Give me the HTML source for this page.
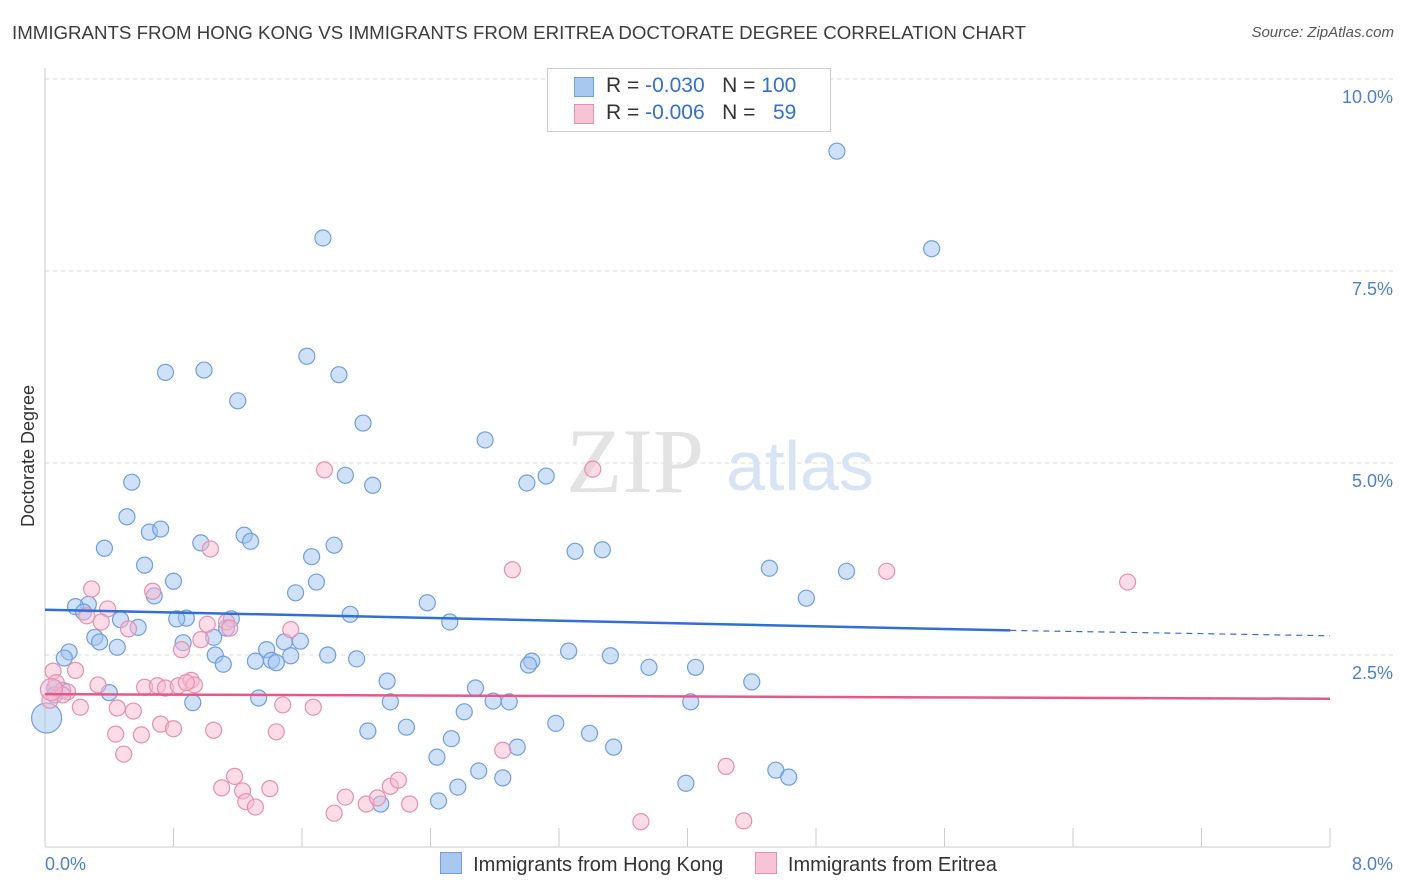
<!DOCTYPE html>
<html><head><meta charset="utf-8"><style>
body{margin:0;background:#fff;font-family:"Liberation Sans",sans-serif;}
#wrap{position:relative;width:1406px;height:892px;overflow:hidden}
.t{position:absolute;white-space:nowrap}
</style></head><body>
<div id="wrap">
<div class="t" style="left:12px;top:22px;font-size:18.7px;color:#3c3c3c">IMMIGRANTS FROM HONG KONG VS IMMIGRANTS FROM ERITREA DOCTORATE DEGREE CORRELATION CHART</div>
<div class="t" style="right:12px;top:24px;font-size:15px;color:#555;font-style:italic">Source: ZipAtlas.com</div>
<svg id="svg" width="1406" height="892" style="position:absolute;left:0;top:0"></svg>
</div>
<script>
const blueX=[4.93,5.52,1.73,1.63,1.83,0.75,0.99,1.20,1.98,2.74,3.12,3.00,1.87,2.04,0.54,0.51,0.65,0.72,1.24,1.28,0.97,0.37,1.80,1.66,3.30,3.47,4.51,4.99,0.62,0.80,1.69,0.68,1.56,4.74,0.27,0.19,0.24,2.38,1.90,0.88,0.82,1.16,0.47,0.58,2.52,1.13,0.31,0.34,0.45,0.86,1.05,1.49,1.59,0.15,0.12,1.38,1.31,1.41,1.44,1.53,1.76,1.94,3.26,3.52,1.06,1.11,3.76,4.05,3.03,3.01,2.13,4.40,2.68,0.06,0.11,0.06,0.40,0.92,1.33,2.15,2.79,2.89,4.02,2.61,3.18,2.25,2.01,3.39,2.53,3.54,2.94,2.44,2.70,2.85,4.55,4.63,3.99,2.57,2.45,2.09,0.01];
const blueY=[9.06,7.79,7.93,6.39,6.15,6.18,6.21,5.81,5.52,5.30,4.83,4.74,4.84,4.71,4.75,4.30,4.10,4.14,4.06,3.98,3.96,3.89,3.93,3.78,3.85,3.87,3.63,3.59,3.67,3.46,3.45,3.27,3.31,3.24,3.16,3.13,3.06,3.18,3.03,2.98,2.97,2.97,2.96,2.86,2.93,2.85,2.73,2.67,2.60,2.66,2.73,2.67,2.68,2.54,2.46,2.57,2.42,2.43,2.40,2.49,2.50,2.45,2.55,2.49,2.50,2.38,2.34,2.34,2.42,2.37,2.16,2.15,2.07,2.07,2.04,1.98,2.01,1.88,1.94,1.89,1.90,1.89,1.89,1.76,1.61,1.56,1.51,1.48,1.41,1.30,1.30,1.17,0.99,0.90,1.00,0.91,0.83,0.78,0.60,0.56,1.68];
const pinkX=[1.74,3.41,2.91,5.24,6.74,1.03,0.29,0.67,0.39,0.26,0.35,0.52,1.13,1.15,1.01,1.53,0.85,0.97,0.05,0.19,0.07,0.33,0.62,0.70,0.75,0.83,0.91,0.93,0.88,0.14,0.11,0.03,0.22,0.45,0.55,1.48,1.67,0.72,0.80,1.05,1.44,0.44,0.60,2.85,4.24,0.49,1.18,1.10,1.23,1.25,1.31,1.40,1.80,1.87,2.00,2.07,2.15,2.20,2.27,3.71,4.35,0.04];
const pinkY=[4.91,4.92,3.61,3.59,3.45,3.88,3.36,3.33,3.10,3.01,2.93,2.84,2.93,2.85,2.90,2.83,2.57,2.70,2.29,2.30,2.14,2.11,2.08,2.10,2.07,2.10,2.17,2.11,2.14,2.02,1.98,1.91,1.82,1.81,1.77,1.85,1.82,1.60,1.54,1.52,1.50,1.47,1.46,1.26,1.05,1.21,0.92,0.77,0.73,0.59,0.52,0.76,0.44,0.65,0.56,0.64,0.79,0.87,0.56,0.33,0.34,2.05];
const blueTrend=[3.09,2.82,2.75];
const pinkTrend=[1.99,1.93];
const yTicks=[2.5,5.0,7.5,10.0];
const xTicks=[0,0.8,1.6,2.4,3.2,4.0,4.8,5.6,6.4,7.2,8.0];

const X0=45,X1=1330,Y0=847,Y1=79;
const sx=v=>X0+(v/8)*(X1-X0);
const sy=v=>Y0-(v/10)*(Y0-Y1);
const svg=document.getElementById('svg');
const NS='http://www.w3.org/2000/svg';
function mk(tag,attrs){const e=document.createElementNS(NS,tag);for(const k in attrs)e.setAttribute(k,attrs[k]);svg.appendChild(e);return e;}

yTicks.forEach(v=>{
  const g=mk('line',{x1:X0,x2:1395,y1:sy(v),y2:sy(v),stroke:'#dcdcdc','stroke-dasharray':'4,4'});
  
  
  const t=mk('text',{x:1393,y:sy(v)+24,'text-anchor':'end','font-size':18,fill:'#4a7fd4','font-family':'Liberation Sans'});
  t.textContent=v.toFixed(1)+'%';
  
  
});
const topGrid=mk('line',{x1:X0,x2:1395,y1:Y1,y2:Y1,stroke:'#dcdcdc','stroke-dasharray':'4,4'});


const ax=mk('line',{x1:X0,x2:X0,y1:68,y2:Y0,stroke:'#ccc'});


const bx=mk('line',{x1:X0,x2:X1,y1:Y0,y2:Y0,stroke:'#ccc'});


xTicks.forEach(v=>{
  const l=mk('line',{x1:sx(v),x2:sx(v),y1:828,y2:Y0,stroke:'#ccc'});
  
  
});
[[0,'start'],[8,'end']].forEach(([v,a])=>{
  const t=mk('text',{x:v===0?45:1393,y:870,'text-anchor':a,'font-size':18,fill:'#4a7fd4','font-family':'Liberation Sans'});
  t.textContent=v.toFixed(1)+'%';
  
  
});
const yt=mk('text',{x:34,y:456,'text-anchor':'middle','font-size':18,fill:'#333',transform:'rotate(-90 34 456)','font-family':'Liberation Sans'});
yt.textContent='Doctorate Degree';


const w1=mk('text',{x:635,y:492,'text-anchor':'middle','font-size':92,fill:'#e3e3e3','font-family':'Liberation Serif'});
w1.textContent='ZIP';


const w2=mk('text',{x:800,y:490,'text-anchor':'middle','font-size':70,fill:'#d6e4f5','font-family':'Liberation Sans'});
w2.textContent='atlas';



blueX.forEach((v,i)=>{
  const big=i===blueX.length-1;
  const c=mk('circle',{cx:sx(v),cy:sy(blueY[i]),r:big?15:8,fill:'rgba(160,196,240,0.5)',stroke:'#6f9fe0','stroke-width':1.2});
  
  
});
pinkX.forEach((v,i)=>{
  const big=i===pinkX.length-1;
  const c=mk('circle',{cx:sx(v),cy:sy(pinkY[i]),r:big?11:8,fill:'rgba(247,185,207,0.5)',stroke:'#e88fae','stroke-width':1.2});
  
  
});
const bl=mk('line',{x1:sx(0),y1:sy(blueTrend[0]),x2:sx(6.01),y2:sy(blueTrend[1]),stroke:'#2f6fd6','stroke-width':2.5});


const bd=mk('line',{x1:sx(6.01),y1:sy(blueTrend[1]),x2:sx(8),y2:sy(blueTrend[2]),stroke:'#2f6fd6','stroke-width':1.2,'stroke-dasharray':'6,5'});


const pl=mk('line',{x1:sx(0),y1:sy(pinkTrend[0]),x2:sx(8),y2:sy(pinkTrend[1]),stroke:'#e8578a','stroke-width':2.5});


</script>
<div class="t" style="left:547px;top:68px;width:282px;height:62px;border:1px solid #ccc;background:#fff;font-size:21px">
 <div style="position:absolute;left:26px;top:8px;width:18px;height:18px;background:#a9c8f0;border:1px solid #6f9fe0"></div>
 <div class="t" style="left:58px;top:5px;color:#333">R = <span style="color:#2f6fd6">-0.030</span>&nbsp;&nbsp;&nbsp;N = <span style="color:#2f6fd6">100</span></div>
 <div style="position:absolute;left:26px;top:35px;width:18px;height:18px;background:#f7c4d6;border:1px solid #e88fae"></div>
 <div class="t" style="left:58px;top:32px;color:#333">R = <span style="color:#2f6fd6">-0.006</span>&nbsp;&nbsp;&nbsp;N = &nbsp;&nbsp;<span style="color:#2f6fd6">59</span></div>
</div>
<div class="t" style="left:440px;top:852px;font-size:20px;color:#333">
 <span style="display:inline-block;width:20px;height:20px;background:#a9c8f0;border:1px solid #6f9fe0;vertical-align:-3px"></span>&nbsp; Immigrants from Hong Kong
 <span style="display:inline-block;width:20px;height:20px;background:#f7c4d6;border:1px solid #e88fae;vertical-align:-3px;margin-left:26px"></span>&nbsp; Immigrants from Eritrea
</div>
</body></html>
